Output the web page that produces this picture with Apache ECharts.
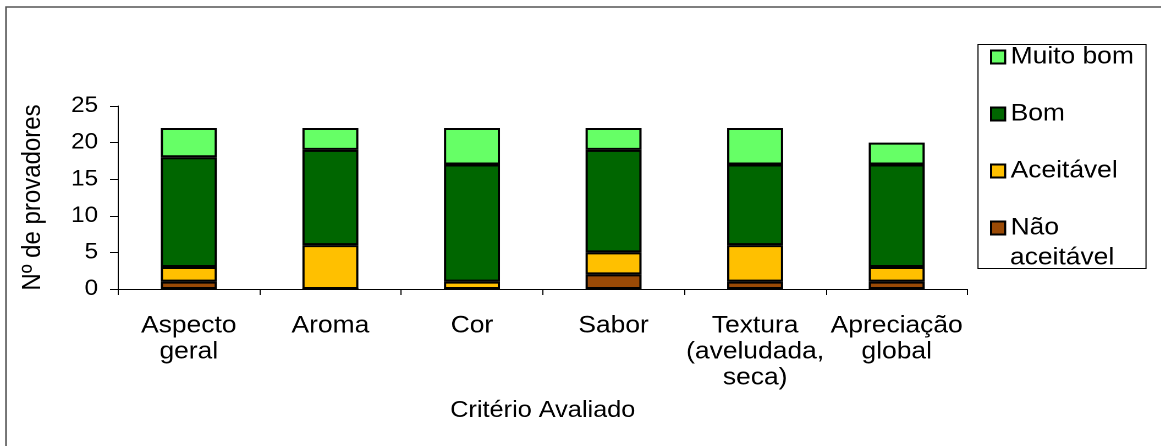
<!DOCTYPE html>
<html>
<head>
<meta charset="utf-8">
<script src="https://cdn.jsdelivr.net/npm/echarts@6/dist/echarts.min.js"></script>
<style>
  html, body { margin: 0; padding: 0; background: #fff; }
  #wrap { width: 1161px; height: 446px; overflow: hidden; }
  /* the chart is laid out narrower and widened, giving the wide lettering */
  #chart { width: 1055.45px; height: 446px; transform: scaleX(1.1); transform-origin: 0 0; }
</style>
</head>
<body>
<div id="wrap"><div id="chart"></div></div>
<script>
// Sensory evaluation: number of tasters per rating, for each criterion
var categories = ['Aspecto\ngeral', 'Aroma', 'Cor', 'Sabor', 'Textura\n(aveludada,\nseca)', 'Apreciação\nglobal'];
var naoAceitavel = [1, 0, 0, 2, 1, 1];
var aceitavel    = [2, 6, 1, 3, 5, 2];
var bom          = [15, 13, 16, 14, 11, 14];
var muitoBom     = [4, 3, 5, 3, 5, 3];
var yTicks = [0, 5, 10, 15, 20, 25];
var seriesNames = ['Não aceitável', 'Aceitável', 'Bom', 'Muito bom'];

var FONT = '"Liberation Sans", Arial, sans-serif';
var SX = 1.1;                       // horizontal widening applied by CSS
function px(x) { return x / SX; }   // screen x -> layout x

function barSeries(name, data, color) {
  return {
    name: name,
    type: 'bar',
    stack: 'total',
    data: data,
    barWidth: px(56),
    itemStyle: { color: color, borderColor: '#000', borderWidth: 2 },
    emphasis: { disabled: true }
  };
}

var chart = echarts.init(document.getElementById('chart'), null, { renderer: 'canvas', devicePixelRatio: 2 });
chart.setOption({
  animation: false,
  backgroundColor: '#fff',
  textStyle: { fontFamily: FONT },
  grid: { left: px(118), right: px(1161 - 968), top: 106, bottom: 157, containLabel: false },
  graphic: [
    {
      type: 'polyline',
      shape: { points: [[px(6), 446], [px(6), 7], [px(1161), 7]] },
      style: { stroke: '#555', lineWidth: 1.5, fill: null },
      silent: true
    },
    {
      // legend frame
      type: 'rect',
      shape: { x: px(978), y: 44.5, width: px(168), height: 224 },
      style: { stroke: '#000', lineWidth: 1, fill: null },
      silent: true,
      z: 0
    },
    {
      // second line of the "Não aceitável" legend entry
      type: 'text',
      x: px(1010),
      y: 258,
      style: { text: 'aceitável', font: '24px ' + FONT, fill: '#000', textVerticalAlign: 'middle', verticalAlign: 'middle' },
      silent: true
    }
  ],
  legend: {
    orient: 'vertical',
    left: px(990),
    top: 44,
    padding: 0,
    itemWidth: px(14),
    itemHeight: 13,
    itemGap: 31,
    icon: 'rect',
    itemStyle: { borderColor: '#000', borderWidth: 2 },
    textStyle: { fontFamily: FONT, fontSize: 24, color: '#000', lineHeight: 26 },
    formatter: function (name) { return name === 'Não aceitável' ? 'Não' : name; },
    data: seriesNames.slice().reverse()
  },
  xAxis: {
    type: 'category',
    data: categories,
    name: 'Critério Avaliado',
    nameLocation: 'middle',
    nameGap: 110,
    nameTextStyle: { fontFamily: FONT, fontSize: 23, color: '#000' },
    axisLine: { lineStyle: { color: '#000', width: 1 } },
    axisTick: { show: true, length: 6, inside: false, lineStyle: { color: '#000' } },
    axisLabel: { fontFamily: FONT, fontSize: 24, color: '#000', lineHeight: 26, margin: 24, interval: 0 }
  },
  yAxis: {
    type: 'value',
    min: yTicks[0],
    max: yTicks[yTicks.length - 1],
    interval: yTicks[1] - yTicks[0],
    name: 'Nº de provadores',
    nameLocation: 'middle',
    nameGap: px(72),
    nameTextStyle: { fontFamily: FONT, fontSize: 24, color: '#000' },
    axisLine: { show: true, lineStyle: { color: '#000', width: 1 } },
    axisTick: { show: true, length: px(8), lineStyle: { color: '#000' } },
    splitLine: { show: false },
    axisLabel: { fontFamily: FONT, fontSize: 22, color: '#000', margin: px(20) }
  },
  series: [
    barSeries(seriesNames[0], naoAceitavel, '#9A4A06'),
    barSeries(seriesNames[1], aceitavel, '#FFC000'),
    barSeries(seriesNames[2], bom, '#006600'),
    barSeries(seriesNames[3], muitoBom, '#66FF66')
  ]
});
</script>
</body>
</html>
